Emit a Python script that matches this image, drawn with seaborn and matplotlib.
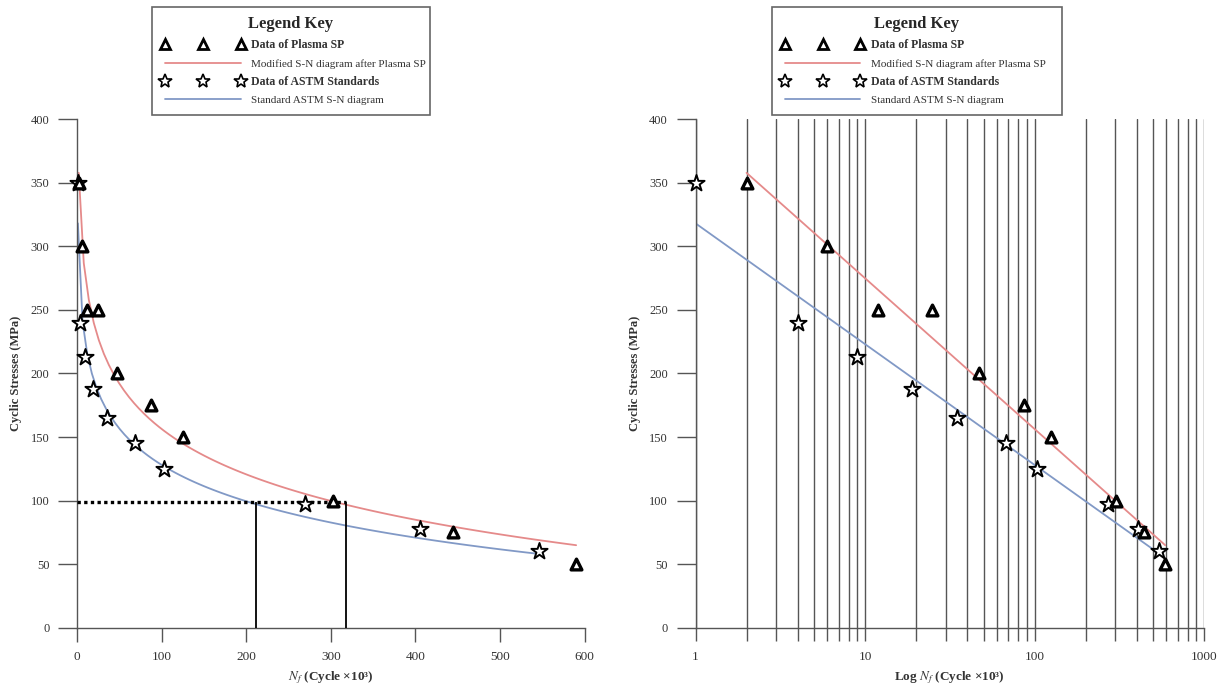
import matplotlib
matplotlib.use("Agg")
import matplotlib.pyplot as plt
from matplotlib.lines import Line2D
from matplotlib.ticker import LogLocator, NullFormatter
import pandas as pd
import seaborn as sns

# fatigue data, N in cycles x10^3, stress in MPa
plasma_n = [2, 6, 12, 25, 47, 87, 125, 302, 444, 590]
plasma_s = [350, 300, 250, 250, 200, 175, 150, 100, 75, 50]

astm_n = [1, 4, 9, 19, 35, 68, 103, 270, 405, 546]
astm_s = [350, 240, 213, 188, 165, 145, 125, 97, 78, 60]

# guide lines drawn on the linear plot
guide_level = 98.7
guide_n = [211, 318]

lin_ticks = [0, 100, 200, 300, 400, 500, 600]
log_ticks = [1, 10, 100, 1000]
log_tick_labels = ["1", "10", "100", "1000"]
y_ticks = [0, 50, 100, 150, 200, 250, 300, 350, 400]

legend_title = "Legend Key"
legend_labels = ["Data of Plasma SP", "Modified S-N diagram after Plasma SP",
                 "Data of ASTM Standards", "Standard ASTM S-N diagram"]

red = "#e58a8a"
blue = "#8199c6"
axis_grey = "#555555"

sns.set_style("white")
plt.rcParams["font.family"] = ["Liberation Serif", "DejaVu Serif"]
plt.rcParams["mathtext.fontset"] = "stix"

plasma = pd.DataFrame({"N": plasma_n, "S": plasma_s})
astm = pd.DataFrame({"N": astm_n, "S": astm_s})

fig = plt.figure(figsize=(12.23, 6.9), dpi=100)
ax1 = fig.add_axes([0.0630, 0.0903, 0.4150, 0.7368])
ax2 = fig.add_axes([0.5687, 0.0903, 0.4158, 0.7368])


def draw_series(ax):
    sns.regplot(data=plasma, x="N", y="S", logx=True, ci=None, scatter=False,
                truncate=True, color=red, line_kws={"lw": 1.3}, ax=ax)
    sns.regplot(data=astm, x="N", y="S", logx=True, ci=None, scatter=False,
                truncate=True, color=blue, line_kws={"lw": 1.3}, ax=ax)
    sns.scatterplot(data=astm, x="N", y="S", marker="*", s=150, color="white",
                    edgecolor="black", linewidth=1.4, clip_on=False, zorder=5, ax=ax)
    sns.scatterplot(data=plasma, x="N", y="S", marker="^", s=60, color="white",
                    edgecolor="black", linewidth=2.4, clip_on=False, zorder=6, ax=ax)


def style_axes(ax):
    sns.despine(ax=ax)
    for side in ["left", "bottom"]:
        ax.spines[side].set_color(axis_grey)
        ax.spines[side].set_linewidth(1.0)
    ax.set_ylim(0, 400)
    ax.set_yticks(y_ticks)
    ax.tick_params(axis="y", which="both", left=True, direction="out", length=14,
                   width=1, pad=6, labelsize=9, color=axis_grey, labelcolor="#333333")
    ax.set_ylabel("Cyclic Stresses (MPa)", fontsize=9, fontweight="bold",
                  color="#333333", labelpad=6)


# linear plot
draw_series(ax1)
ax1.plot([0, guide_n[1]], [guide_level, guide_level], color="black",
         ls=(0, (1, 1)), lw=2.4, zorder=4)
ax1.vlines(guide_n, 0, guide_level, color="black", lw=1.3, zorder=4)
style_axes(ax1)
ax1.set_xlim(0, 600)
ax1.set_xticks(lin_ticks)
ax1.tick_params(axis="x", bottom=True, direction="out", length=10, width=1, pad=7,
                labelsize=9.5, color=axis_grey, labelcolor="#333333")
ax1.set_xlabel(r"$N_f$ (Cycle ×10³)", fontsize=9.5, fontweight="bold",
               color="#333333", labelpad=4)

# semi-log plot
draw_series(ax2)
ax2.set_xscale("log")
style_axes(ax2)
ax2.set_xlim(1, 1000)
ax2.set_xticks(log_ticks)
ax2.set_xticklabels(log_tick_labels)
ax2.xaxis.set_minor_locator(LogLocator(base=10, subs=range(2, 10)))
ax2.xaxis.set_minor_formatter(NullFormatter())
ax2.tick_params(axis="x", which="both", bottom=True, direction="out", length=9,
                width=1, pad=8, labelsize=9.5, color=axis_grey, labelcolor="#333333")
ax2.grid(True, which="both", axis="x", color=axis_grey, lw=1.0)
ax2.set_axisbelow(True)
ax2.set_xlabel(r"Log $N_f$ (Cycle ×10³)", fontsize=9.5, fontweight="bold",
               color="#333333", labelpad=4)

handles = [
    Line2D([], [], ls="none", marker="^", markersize=7, mfc="white", mec="black", mew=2.0),
    Line2D([], [], color=red, lw=1.3),
    Line2D([], [], ls="none", marker="*", markersize=10, mfc="white", mec="black", mew=1.2),
    Line2D([], [], color=blue, lw=1.3),
]

for x0, w in [(0.1243, 0.2273), (0.6312, 0.2371)]:
    leg = fig.legend(handles, legend_labels, loc="upper left",
                     bbox_to_anchor=(x0, 0.70, w, 0.2899), mode="expand",
                     numpoints=3, handlelength=7.0, handletextpad=0.55,
                     labelspacing=0.6, borderpad=0.8, borderaxespad=0,
                     fancybox=False, framealpha=1, edgecolor="#666666",
                     title=legend_title, prop={"size": 8.5},
                     title_fontproperties={"weight": "bold", "size": 12})
    leg.get_frame().set_linewidth(1.2)
    for i, txt in enumerate(leg.get_texts()):
        if i % 2 == 0:
            txt.set_fontweight("bold")
            txt.set_fontsize(8.5)
        else:
            txt.set_fontsize(8)
        txt.set_color("#333333")

fig.savefig("out.png", dpi=100)
